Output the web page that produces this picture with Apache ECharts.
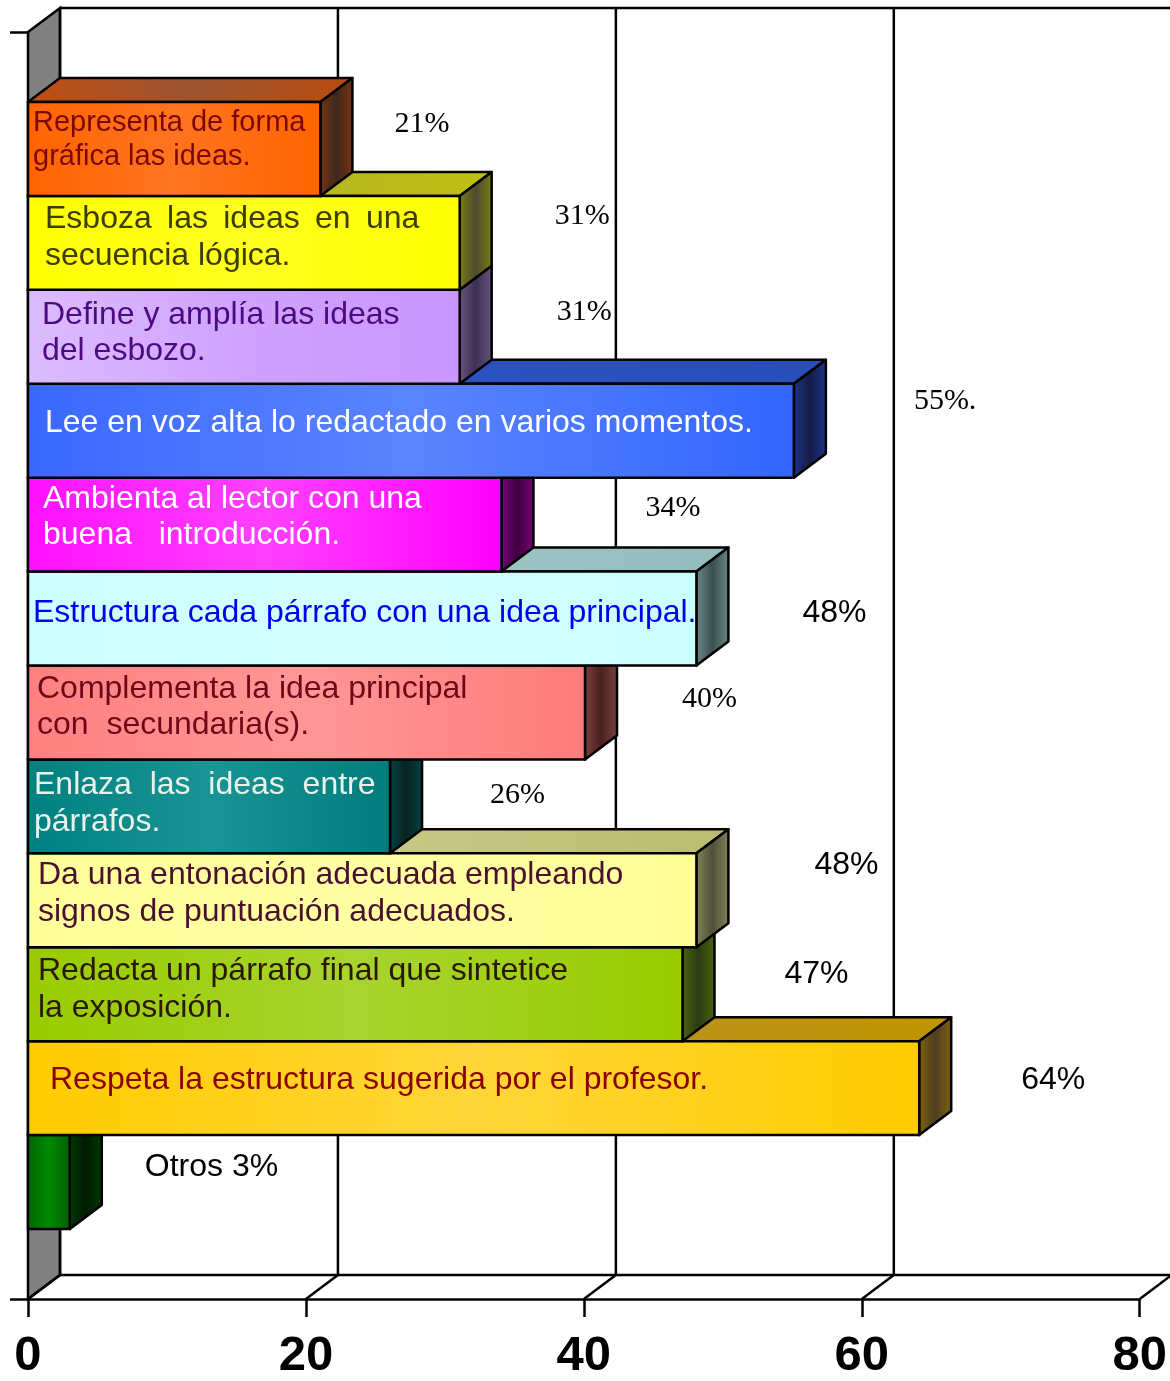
<!DOCTYPE html>
<html><head><meta charset="utf-8">
<script src="https://cdn.jsdelivr.net/npm/echarts@6/dist/echarts.min.js"></script>
<style>html,body{margin:0;padding:0;background:#fff}#c{width:1170px;height:1381px}</style>
</head><body><div id="c"></div>
<script>
// ---------- DATA ----------
const categories = [
  'Representa de forma\ngráfica las ideas.',
  'Esboza \u2009las \u2009ideas \u2009en \u2009una\nsecuencia lógica.',
  'Define y amplía las ideas\ndel esbozo.',
  'Lee en voz alta lo redactado en varios momentos.',
  'Ambienta al lector con una\nbuena   introducción.',
  'Estructura cada párrafo con una idea principal.',
  'Complementa la idea principal\ncon  secundaria(s).',
  'Enlaza  las  ideas  entre\npárrafos.',
  'Da una entonación adecuada empleando\nsignos de puntuación adecuados.',
  'Redacta un párrafo final que sintetice\nla exposición.',
  'Respeta la estructura sugerida por el profesor.',
  'Otros'
];
const values = [21, 31, 31, 55, 34, 48, 40, 26, 48, 47, 64, 3];
const valueLabels = ['21%', '31%', '31%', '55%.', '34%', '48%', '40%', '26%', '48%', '47%', '64%', 'Otros 3%'];
const xTicks = [0, 20, 40, 60, 80];

// ---------- STYLE ----------
const SANS = '"Liberation Sans", Arial, sans-serif';
const SERIF = '"Liberation Serif", "Times New Roman", serif';
const DX = 32, DY = -24;
const barStyles = [
  {front:['#ff6400','#ff7420','#ff6400'], top:['#c04e14','#9c5430','#b84c10'], side:['#7a3410','#3e281c','#7a3410'], text:'#7a0800', size:29, lh:34, indent:5, dy:-9, inside:true, vFont:SERIF, vSize:30, vGap:42, vDy:-25},
  {front:['#ffff00','#ffff20','#ffff00'], top:['#a8a820','#b4b42a','#c0c010'], side:['#7c7c10','#4c4c30','#7c7c10'], text:'#3c3c00', size:32, lh:37, indent:17, dy:-5, inside:true, vFont:SERIF, vSize:30, vGap:63, vDy:-27},
  {front:['#dcbcff','#cfa2ff','#c896ff'], top:['#9a74c0','#8a68b0','#9a74c0'], side:['#6a5484','#3e3050','#6a5484'], text:'#4c0a80', size:32, lh:36, indent:14, dy:-4, inside:true, vFont:SERIF, vSize:30, vGap:65, vDy:-25},
  {front:['#3a68ff','#5a84ff','#3366ff'], top:['#2a4eb8','#2c52c0','#2a4eb8'], side:['#1e3590','#141c44','#1e3590'], text:'#ffffff', size:32, lh:37, indent:17, dy:-8, inside:true, vFont:SERIF, vSize:30, vGap:88, vDy:-30},
  {front:['#ff10ff','#ff40ff','#ff00ff'], top:['#b000b0','#a000a0','#b000b0'], side:['#7a007a','#3e003e','#7a007a'], text:'#ffffff', size:32, lh:36, indent:15, dy:-7, inside:true, vFont:SERIF, vSize:30, vGap:112, vDy:-17},
  {front:['#ccffff','#d4ffff','#ccffff'], top:['#94bcbc','#a0c8c8','#94bcbc'], side:['#6a8a8a','#3c5050','#6a8a8a'], text:'#0000ee', size:32, lh:37, indent:5, dy:-5, inside:true, vFont:SANS, vSize:32, vGap:74, vDy:-5},
  {front:['#ff8080','#ff9696','#ff7c7c'], top:['#c06060','#b05858','#c06060'], side:['#804040','#4a2020','#804040'], text:'#6e0818', size:32, lh:36, indent:9, dy:-5, inside:true, vFont:SERIF, vSize:30, vGap:65, vDy:-13},
  {front:['#008080','#1a9494','#007c7c'], top:['#006060','#005858','#006060'], side:['#004444','#0c2222','#004444'], text:'#e6f2ea', size:32, lh:37, indent:6, dy:-3, inside:true, vFont:SERIF, vSize:30, vGap:68, vDy:-11},
  {front:['#ffff99','#ffffa4','#ffff99'], top:['#b8b878','#c8c888','#bcbc70'], side:['#84845a','#50503a','#84845a'], text:'#4a1030', size:32, lh:37, indent:10, dy:-7, inside:true, vFont:SANS, vSize:32, vGap:86, vDy:-35},
  {front:['#99cc00','#a8d42e','#99cc00'], top:['#6e9400','#628400','#6e9400'], side:['#4a6610','#2c3c12','#4a6610'], text:'#2a1800', size:32, lh:37, indent:10, dy:-5, inside:true, vFont:SANS, vSize:32, vGap:70, vDy:-20},
  {front:['#ffcc00','#ffd638','#ffcc00'], top:['#b08a1a','#b8922a','#c09400'], side:['#806410','#4e3e1e','#806410'], text:'#8a0000', size:32, lh:37, indent:22, dy:-8, inside:true, vFont:SANS, vSize:32, vGap:70, vDy:-8},
  {front:['#006400','#008a00','#005c00'], top:['#004800','#004000','#004800'], side:['#003a00','#001c00','#003a00'], text:'#000000', size:32, lh:37, indent:5, dy:0, inside:false, vFont:SANS, vSize:32, vGap:43, vDy:-15}
];

function grad(cols) {
  return {type:'linear', x:0, y:0, x2:1, y2:0,
    colorStops: cols.map((c, k) => ({offset: k / (cols.length - 1), color: c}))};
}
const STROKE = '#000';
const LW = 2.5;

function renderBar(params, api) {
  const i = api.value(1);
  const v = api.value(0);
  const p0 = api.coord([0, i]);
  const p1 = api.coord([v, i]);
  const h = api.size([0, 1])[1];
  const top = p0[1] - h / 2, bot = p0[1] + h / 2;
  const xl = p0[0], xr = p1[0];
  const s = barStyles[i];
  const children = [
    {type:'polygon', shape:{points:[[xl, top],[xl+DX, top+DY],[xr+DX, top+DY],[xr, top]]},
      style:{fill:grad(s.top), stroke:STROKE, lineWidth:LW, lineJoin:'round'}},
    {type:'polygon', shape:{points:[[xr, top],[xr+DX, top+DY],[xr+DX, bot+DY],[xr, bot]]},
      style:{fill:grad(s.side), stroke:STROKE, lineWidth:LW, lineJoin:'round'}},
    {type:'rect', shape:{x:xl, y:top, width:xr-xl, height:bot-top},
      style:{fill:grad(s.front), stroke:STROKE, lineWidth:LW}}
  ];
  if (s.inside) {
    children.push({type:'text', x:xl + s.indent, y:p0[1] + s.dy,
      style:{text:categories[i], fill:s.text, fontSize:s.size, fontFamily:SANS,
        lineHeight:s.lh, align:'left', verticalAlign:'middle'}});
  }
  children.push({type:'text', x:xr + DX + s.vGap, y:p0[1] + s.vDy,
    style:{text:valueLabels[i], fill:'#000', fontSize:s.vSize, fontFamily:s.vFont,
      align:'left', verticalAlign:'middle'}});
  return {type:'group', children};
}

function renderFrame(params, api) {
  const t = api.value(0);
  const pb = api.coord([t, 0]);
  const pt = api.coord([t, 1]);
  const x = pb[0], bot = pb[1], top = pt[1];
  const ls = {stroke:STROKE, lineWidth:LW};
  const ch = [];
  if (t === xTicks[0]) {
    const xEnd = api.coord([xTicks[xTicks.length - 1], 0])[0];
    ch.push({type:'polygon', shape:{points:[[x, top],[x+DX, top+DY],[x+DX, bot+DY],[x, bot]]},
      style:{fill:'#808080', stroke:STROKE, lineWidth:LW}});
    ch.push({type:'line', shape:{x1:x+DX, y1:top+DY, x2:xEnd+DX, y2:top+DY}, style:ls});
    ch.push({type:'line', shape:{x1:x+DX, y1:bot+DY, x2:xEnd+DX, y2:bot+DY}, style:ls});
  }
  ch.push({type:'line', shape:{x1:x+DX, y1:top+DY, x2:x+DX, y2:bot+DY}, style:ls});
  ch.push({type:'line', shape:{x1:x, y1:bot, x2:x+DX, y2:bot+DY}, style:ls});
  return {type:'group', children:ch};
}

const chart = echarts.init(document.getElementById('c'), null, {renderer:'canvas'});
chart.setOption({
  animation:false,
  backgroundColor:'#ffffff',
  grid:[
    {left:28, width:1114, top:102, height:1127},
    {left:28, width:1114, top:32, height:1268}
  ],
  xAxis:[
    {gridIndex:0, type:'value', min:0, max:80, interval:20, show:false},
    {gridIndex:1, type:'value', min:0, max:80, interval:20,
      axisLine:{show:true, lineStyle:{color:'#000', width:LW}},
      axisTick:{show:true, length:18, lineStyle:{color:'#000', width:LW}},
      splitLine:{show:false},
      axisLabel:{show:true, color:'#000', fontSize:49, fontWeight:'bold', fontFamily:SANS, margin:33,
        formatter: v => String(v)}}
  ],
  yAxis:[
    {gridIndex:0, type:'category', inverse:true, data:categories, show:false},
    {gridIndex:1, type:'value', min:0, max:1, interval:1,
      axisLine:{show:true, onZero:false, lineStyle:{color:'#000', width:LW}},
      axisTick:{show:true, length:18, lineStyle:{color:'#000', width:LW}},
      axisLabel:{show:false}, splitLine:{show:false}}
  ],
  series:[
    {type:'custom', name:'frame', xAxisIndex:1, yAxisIndex:1, z:1, silent:true,
      renderItem:renderFrame, data:xTicks.map(t => [t])},
    {type:'custom', name:'bars', xAxisIndex:0, yAxisIndex:0, z:3, silent:true,
      renderItem:renderBar,
      data:values.map((v, i) => [v, i]).reverse()}
  ]
});
</script>
</body></html>
